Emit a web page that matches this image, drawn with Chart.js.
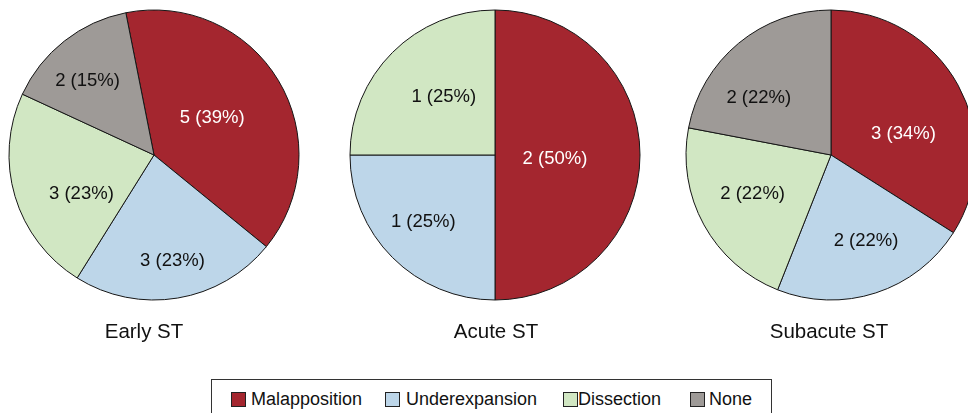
<!DOCTYPE html>
<html>
<head>
<meta charset="utf-8">
<script src="https://cdn.jsdelivr.net/npm/chart.js@4.4.1/dist/chart.umd.min.js"></script>
<style>
  html, body { margin: 0; padding: 0; background: #fff; width: 968px; height: 413px; overflow: hidden; }
  body { position: relative; font-family: "Liberation Sans", Arial, sans-serif; }
  canvas { position: absolute; }
  #legend { position: absolute; left: 211px; top: 379px; width: 561px; height: 60px;
            border: 1px solid #333; box-sizing: border-box; }
  .item { position: absolute; top: 11px; height: 16px; font-size: 18px; line-height: 16px; color: #111; white-space: nowrap; }
  .swatch { position: absolute; top: 1px; left: 0; width: 13px; height: 13px; border: 1px solid #222; }
  .item span.t { position: absolute; top: 0; }
</style>
</head>
<body>
<canvas id="early" width="300" height="350" style="left:4px;top:5px"></canvas>
<canvas id="acute" width="300" height="350" style="left:345px;top:5px"></canvas>
<canvas id="subacute" width="300" height="350" style="left:681px;top:5px"></canvas>
<div id="legend"></div>
<script>
// Causes of stent thrombosis, by timing
const categories = ["Malapposition", "Underexpansion", "Dissection", "None"];
const colors = ["#A4262F", "#BDD6E9", "#D1E7C3", "#9E9A97"];

const earlyCounts = [5, 3, 3, 2];
const earlyPercent = [39, 23, 23, 15];

const acuteCounts = [2, 1, 1, 0];
const acutePercent = [50, 25, 25, 0];

const subacuteCounts = [3, 2, 2, 2];
const subacutePercent = [34, 22, 22, 22];

const panelTitles = ["Early ST", "Acute ST", "Subacute ST"];

// Writes "count (pct%)" inside each slice; place = [radius fraction, angle shift in degrees]
const sliceLabels = {
  id: 'sliceLabels',
  afterDatasetsDraw(chart, args, opts) {
    const ctx = chart.ctx;
    const meta = chart.getDatasetMeta(0);
    ctx.save();
    ctx.font = '18.5px "Liberation Sans", Arial, sans-serif';
    ctx.textAlign = 'center';
    ctx.textBaseline = 'middle';
    meta.data.forEach((arc, i) => {
      if (!opts.percent[i]) return;
      const p = opts.place[i];
      const mid = (arc.startAngle + arc.endAngle) / 2 + p[1] * Math.PI / 180;
      const r = arc.outerRadius * p[0];
      ctx.fillStyle = i === 0 ? '#ffffff' : '#111111';
      ctx.fillText(opts.counts[i] + ' (' + opts.percent[i] + '%)',
                   arc.x + r * Math.cos(mid), arc.y + r * Math.sin(mid) + 1);
    });
    ctx.restore();
  }
};

// Panel caption under the pie
const panelCaption = {
  id: 'panelCaption',
  afterDraw(chart, args, opts) {
    const ctx = chart.ctx;
    const a = chart.chartArea;
    ctx.save();
    ctx.font = '20.5px "Liberation Sans", Arial, sans-serif';
    ctx.fillStyle = '#111';
    ctx.textAlign = 'center';
    ctx.textBaseline = 'alphabetic';
    ctx.fillText(opts.text, (a.left + a.right) / 2 + opts.dx, (a.top + a.bottom) / 2 + 183);
    ctx.restore();
  }
};

function makePie(id, counts, percent, title, rotation, place, dx) {
  return new Chart(document.getElementById(id), {
    type: 'pie',
    data: {
      labels: categories,
      datasets: [{
        data: percent,
        backgroundColor: colors,
        borderColor: '#161616',
        borderWidth: 1,
        radius: 145
      }]
    },
    options: {
      responsive: false,
      animation: false,
      rotation: rotation,
      layout: { padding: { left: 0, right: 0, top: 0, bottom: 50 } },
      events: [],
      plugins: {
        legend: { display: false },
        tooltip: { enabled: false },
        sliceLabels: { counts: counts, percent: percent, place: place },
        panelCaption: { text: title, dx: dx }
      }
    },
    plugins: [sliceLabels, panelCaption]
  });
}

makePie('early', earlyCounts, earlyPercent, panelTitles[0], -11.2,
        [[0.48, -2.2], [0.735, -0.6], [0.566, -11.2], [0.69, -3.4]], -10);
makePie('acute', acuteCounts, acutePercent, panelTitles[1], 0,
        [[0.414, 3], [0.674, 2.2], [0.537, 3.9], [0.5, 0]], 1);
makePie('subacute', subacuteCounts, subacutePercent, panelTitles[2], 0,
        [[0.522, 12.1], [0.634, -4.4], [0.6, 3.1], [0.64, -11.5]], -2);

// Legend
const legendLeft = [19, 173, 351, 478];
const legend = document.getElementById('legend');
categories.forEach((name, i) => {
  const item = document.createElement('div');
  item.className = 'item';
  item.style.left = legendLeft[i] + 'px';
  const sw = document.createElement('div');
  sw.className = 'swatch';
  sw.style.background = colors[i];
  const t = document.createElement('span');
  t.className = 't';
  t.style.left = (i === 0 ? 20 : (i === 1 ? 21 : (i === 2 ? 15 : 19))) + 'px';
  t.textContent = name;
  item.appendChild(sw);
  item.appendChild(t);
  legend.appendChild(item);
});
</script>
</body>
</html>
